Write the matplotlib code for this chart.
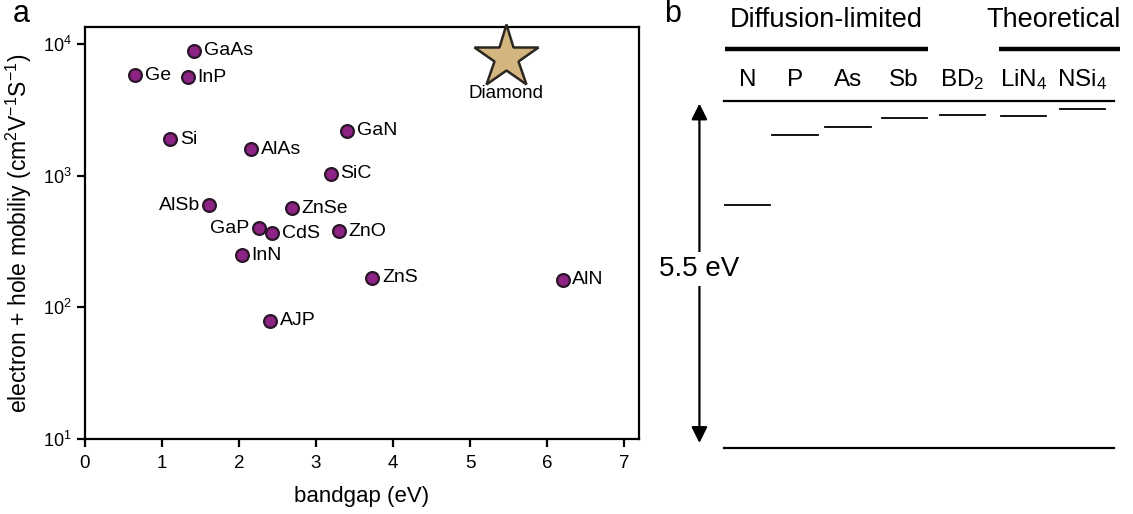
import matplotlib
matplotlib.use("Agg")
import matplotlib.pyplot as plt

plt.rcParams["font.family"] = ["Liberation Sans", "DejaVu Sans"]
plt.rcParams["mathtext.fontset"] = "custom"
plt.rcParams["mathtext.rm"] = "Liberation Sans"
plt.rcParams["mathtext.it"] = "Liberation Sans:italic"

# ---- panel a: mobility vs bandgap ----
materials = ["GaAs", "Ge", "InP", "Si", "AlAs", "GaN", "SiC", "AlSb",
             "ZnSe", "GaP", "CdS", "ZnO", "InN", "ZnS", "AlN", "AJP"]
bandgap = [1.42, 0.66, 1.34, 1.11, 2.16, 3.41, 3.19, 1.62,
           2.69, 2.26, 2.43, 3.30, 2.04, 3.73, 6.20, 2.41]
mobility = [8900, 5800, 5600, 1900, 1600, 2200, 1040, 600,
            565, 400, 365, 380, 250, 168, 163, 79]
label_left = ["AlSb", "GaP"]

diamond_gap = 5.47
diamond_mobility = 8000

# ---- panel b: dopant levels in diamond (eV, valence band = 0) ----
gap_ev = 5.5
dopants = ["N", "P", "As", "Sb", "BD$_2$", "LiN$_4$", "NSi$_4$"]
depth_below_cb = [1.65, 0.54, 0.42, 0.27, 0.22, 0.24, 0.12]
groups = ["Diffusion-limited", "Theoretical"]

fig = plt.figure(figsize=(11.33, 5.14), dpi=100)

ax = fig.add_axes([0.0746, 0.1459, 0.4894, 0.8021])
ax.set_yscale("log")
ax.set_xlim(0, 7.19)
ax.set_ylim(10, 13600)

purple = "#8c2385"
ax.plot(bandgap, mobility, linestyle="none", marker="o", ms=9.2,
        mfc=purple, mec="#2a1628", mew=1.6, zorder=3)
for name, x, y in zip(materials, bandgap, mobility):
    if name in label_left:
        ax.annotate(name, (x, y), xytext=(-7, 0), textcoords="offset points",
                    ha="right", va="center", fontsize=14)
    else:
        ax.annotate(name, (x, y), xytext=(7, 0), textcoords="offset points",
                    ha="left", va="center", fontsize=14)

ax.plot([diamond_gap], [diamond_mobility], linestyle="none", marker="*",
        ms=48, mfc="#d3b57f", mec="#2b2620", mew=1.8, zorder=4, clip_on=False)
ax.annotate("Diamond", (diamond_gap, diamond_mobility), xytext=(0, -20),
            textcoords="offset points", ha="center", va="top", fontsize=13.5)

ax.set_xticks(range(0, 8))
ax.set_yticks([10, 100, 1000, 10000])
ax.set_yticklabels([r"$10^{1}$", r"$10^{2}$", r"$10^{3}$", r"$10^{4}$"])
ax.minorticks_off()
ax.tick_params(axis="x", labelsize=13.5, width=1.6, length=5.5, pad=6)
ax.tick_params(axis="y", labelsize=13, width=1.6, length=5.5, pad=4)
for s in ax.spines.values():
    s.set_linewidth(1.6)
ax.set_xlabel("bandgap (eV)", fontsize=16, labelpad=10)
ax.set_ylabel(r"electron + hole mobiliy (cm$^{2}$V$^{-1}$S$^{-1}$)",
              fontsize=16.5, labelpad=6)

fig.text(0.011, 0.972, "a", fontsize=22, ha="left", va="center")
fig.text(0.586, 0.972, "b", fontsize=22, ha="left", va="center")

# ---- panel b drawing ----
bx = fig.add_axes([0.639, 0.129, 0.3442, 0.6745])
bx.set_xlim(0, 1)
bx.set_ylim(0, gap_ev)
bx.axis("off")

col_x = [0.060, 0.182, 0.318, 0.462, 0.612, 0.768, 0.919]
half_w = 0.058

bx.plot([0, 1], [gap_ev, gap_ev], color="black", lw=1.6, clip_on=False)
bx.plot([0, 1], [0, 0], color="black", lw=1.6, clip_on=False)
for cx, d in zip(col_x, depth_below_cb):
    lvl = gap_ev - d
    bx.plot([cx - half_w, cx + half_w], [lvl, lvl], color="black", lw=1.3,
            clip_on=False)

for name, cx in zip(dopants, col_x):
    bx.text(cx, 1.062, name, transform=bx.transAxes, ha="center",
            va="center", fontsize=17.5)

bx.plot([0.003, 0.523], [1.150, 1.150], transform=bx.transAxes,
        color="black", lw=3.2, clip_on=False, solid_capstyle="butt")
bx.plot([0.705, 1.015], [1.150, 1.150], transform=bx.transAxes,
        color="black", lw=3.2, clip_on=False, solid_capstyle="butt")
bx.text(0.262, 1.234, groups[0], transform=bx.transAxes, ha="center",
        va="center", fontsize=19.5)
bx.text(0.845, 1.234, groups[1], transform=bx.transAxes, ha="center",
        va="center", fontsize=19.5)

arrow_x = -0.063
bx.annotate("", xy=(arrow_x, gap_ev - 0.04), xytext=(arrow_x, 0.075),
            xycoords=("axes fraction", "data"),
            textcoords=("axes fraction", "data"),
            arrowprops=dict(arrowstyle="<|-|>", color="black", lw=1.6,
                            mutation_scale=24, shrinkA=0, shrinkB=0),
            annotation_clip=False)
bx.text(arrow_x, 2.83, f"{gap_ev} eV", transform=bx.get_yaxis_transform(),
        ha="center", va="center", fontsize=20,
        bbox=dict(facecolor="white", edgecolor="none", pad=3))

fig.savefig("out.png", dpi=100)
